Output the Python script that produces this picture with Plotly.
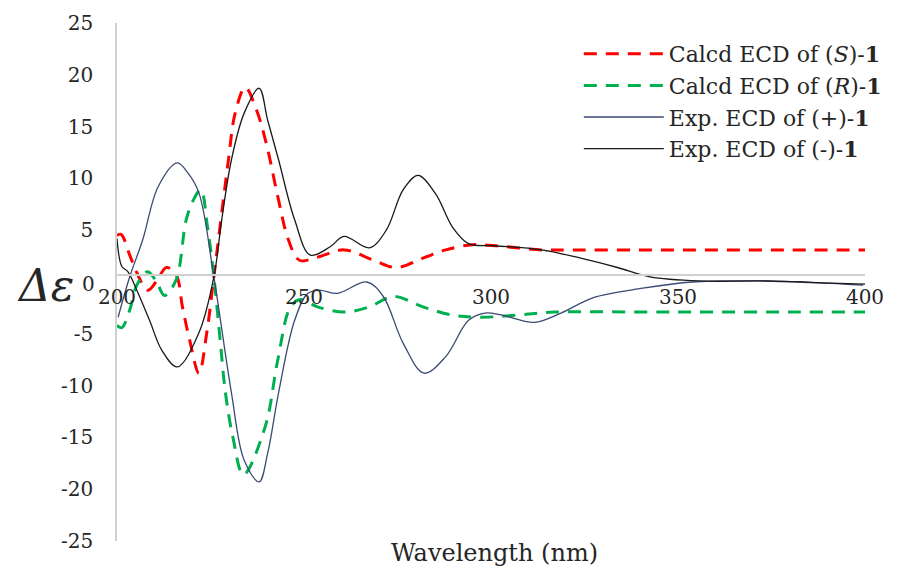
import plotly.graph_objects as go

# ---- data ----
wl_S = [200.0, 201.1, 203.4, 205.3, 208.2, 210.6, 213.2, 215.8, 217.5, 219.3, 221.9, 224.0, 225.9, 229.8, 231.6,
        234.3, 237.3, 239.9, 243.2, 245.8, 248.8, 253.6, 260.7, 268.6, 274.7, 281.8, 287.9, 295.0, 301.1,
        313.5, 320.0, 340.0, 360.0, 380.0, 400.0]
ecd_S = [4.5, 4.6, 2.6, 0.9, -0.8, 0.1, 1.4, 0.7, -2.4, -5.4, -8.8, -4.9, 0.5, 11.8, 16.3,
         18.8, 16.6, 13.4, 7.9, 4.1, 2.1, 2.4, 3.1, 2.1, 1.4, 2.3, 3.1, 3.6, 3.5,
         3.1, 3.1, 3.1, 3.1, 3.1, 3.1]

wl_R = [200.0, 201.3, 203.4, 205.3, 208.2, 210.6, 212.7, 215.8, 218.5, 220.4, 222.4, 224.2, 225.9, 227.5, 229.0,
        231.0, 233.8, 239.6, 243.0, 246.4, 249.1, 253.6, 260.7, 267.5, 273.9, 281.8, 289.7, 297.6, 310.0,
        316.9, 340.0, 360.0, 380.0, 400.0]
ecd_R = [-4.2, -4.4, -2.7, -0.3, 1.0, 0.0, -1.3, 0.2, 6.0, 7.9, 8.9, 5.3, 0.5, -5.3, -10.7,
         -15.0, -18.6, -14.0, -7.5, -2.4, -1.7, -2.4, -2.9, -2.4, -1.4, -2.4, -3.2, -3.4, -3.1,
         -2.9, -2.9, -2.9, -2.9, -2.9]

wl_pos = [200.3, 203.4, 206.9, 211.0, 216.1, 219.0, 221.9, 225.9, 230.6, 234.0, 238.0, 240.3, 243.2, 247.5,
          251.0, 254.4, 258.9, 266.8, 271.2, 276.5, 282.1, 287.9, 294.0, 298.4, 302.9, 311.6, 318.7,
          327.4, 340.6, 353.8, 371.5, 388.9, 399.5]
ecd_pos = [-3.4, 0.5, 4.1, 9.2, 11.5, 10.5, 8.6, 0.5, -10.7, -17.2, -19.3, -16.5, -10.7, -3.7,
           -1.1, -0.8, -1.1, 0.0, -1.4, -5.9, -8.8, -7.2, -3.7, -3.0, -3.2, -3.9, -3.0,
           -1.5, -0.6, 0.0, 0.1, -0.1, -0.3]

wl_neg = [200.0, 201.3, 202.9, 205.3, 208.7, 212.0, 216.1, 221.9, 225.9, 228.0, 230.6, 234.0, 238.0, 240.3,
          243.2, 247.5, 251.7, 257.0, 260.7, 267.5, 272.0, 276.5, 280.5, 285.2, 289.7, 294.0, 301.1,
          313.5, 324.0, 333.8, 342.5, 355.7, 373.4, 390.8, 400.0]
ecd_neg = [4.2, 1.5, 1.0, -0.8, -3.7, -6.6, -8.2, -4.9, 0.5, 6.0, 11.8, 16.3, 18.7, 15.6,
           11.8, 6.0, 2.6, 3.4, 4.4, 3.3, 5.0, 8.9, 10.3, 8.5, 5.3, 3.7, 3.5,
           3.1, 2.3, 1.4, 0.5, 0.1, 0.1, -0.1, -0.2]

x_ticks = [200, 250, 300, 350, 400]
y_ticks = [-25, -20, -15, -10, -5, 5, 10, 15, 20, 25]

SERIF = "DejaVu Serif"

fig = go.Figure()
fig.add_trace(go.Scatter(x=wl_S, y=ecd_S, mode="lines", name="Calcd ECD of (<i>S</i>)-<b>1</b>",
                         line=dict(color="#ff0000", width=3, dash="13px,9px", shape="spline", smoothing=1.0)))
fig.add_trace(go.Scatter(x=wl_R, y=ecd_R, mode="lines", name="Calcd ECD of (<i>R</i>)-<b>1</b>",
                         line=dict(color="#00b050", width=3, dash="13px,9px", shape="spline", smoothing=1.0)))
fig.add_trace(go.Scatter(x=wl_pos, y=ecd_pos, mode="lines", name="Exp. ECD of (+)-<b>1</b>",
                         line=dict(color="#3b4a75", width=1.3, shape="spline", smoothing=1.0)))
fig.add_trace(go.Scatter(x=wl_neg, y=ecd_neg, mode="lines", name="Exp. ECD of (-)-<b>1</b>",
                         line=dict(color="#1a1a1a", width=1.3, shape="spline", smoothing=1.0)))

L, R, T, B = 117, 24, 23, 31
H = 572 - T - B
W = 899 - L - R
axis_pix = 275
xpos = (572 - B - axis_pix) / H

fig.update_layout(
    width=899, height=572,
    margin=dict(l=L, r=R, t=T, b=B),
    paper_bgcolor="white", plot_bgcolor="white",
    font=dict(family=SERIF, size=20, color="#262626"),
    showlegend=True,
    legend=dict(x=(585 - L) / W, y=(572 - B - 33) / H, xanchor="left", yanchor="top",
                font=dict(family=SERIF, size=22, color="#262626"),
                bgcolor="rgba(0,0,0,0)", itemwidth=80, tracegroupgap=0),
    xaxis=dict(range=[200, 400], tickvals=x_ticks, ticktext=[str(v) for v in x_ticks],
               showgrid=False, zeroline=False, showline=True, linecolor="#d0d0d0", linewidth=1.5,
               anchor="free", position=xpos, ticks="", ticklabelstandoff=4,
               tickfont=dict(family=SERIF, size=20, color="#262626")),
    yaxis=dict(range=[-25, 25], tickvals=y_ticks, ticktext=[str(v) for v in y_ticks],
               showgrid=False, zeroline=False, showline=True, linecolor="#d0d0d0", linewidth=1.5,
               ticks="", ticklabelstandoff=18,
               tickfont=dict(family=SERIF, size=20, color="#262626")),
)

fig.add_annotation(text="<i>Δε</i>", xref="paper", yref="paper", x=(45 - L) / W,
                   y=(572 - B - 285) / H, xanchor="center", yanchor="middle", showarrow=False,
                   font=dict(family=SERIF, size=44, color="#262626"))
fig.add_annotation(text="<span style='font-size:20px'>0</span>", xref="paper", yref="paper",
                   x=(97 - L) / W, y=(572 - B - 284) / H, xanchor="right", yanchor="middle",
                   showarrow=False, font=dict(family=SERIF, size=20, color="#262626"))
fig.add_annotation(text="Wavelength (nm)", xref="paper", yref="paper", x=(500 - L) / W,
                   y=(572 - B - 553) / H, xanchor="center", yanchor="middle", showarrow=False,
                   font=dict(family=SERIF, size=24, color="#262626"))

fig.write_html("out.html")
